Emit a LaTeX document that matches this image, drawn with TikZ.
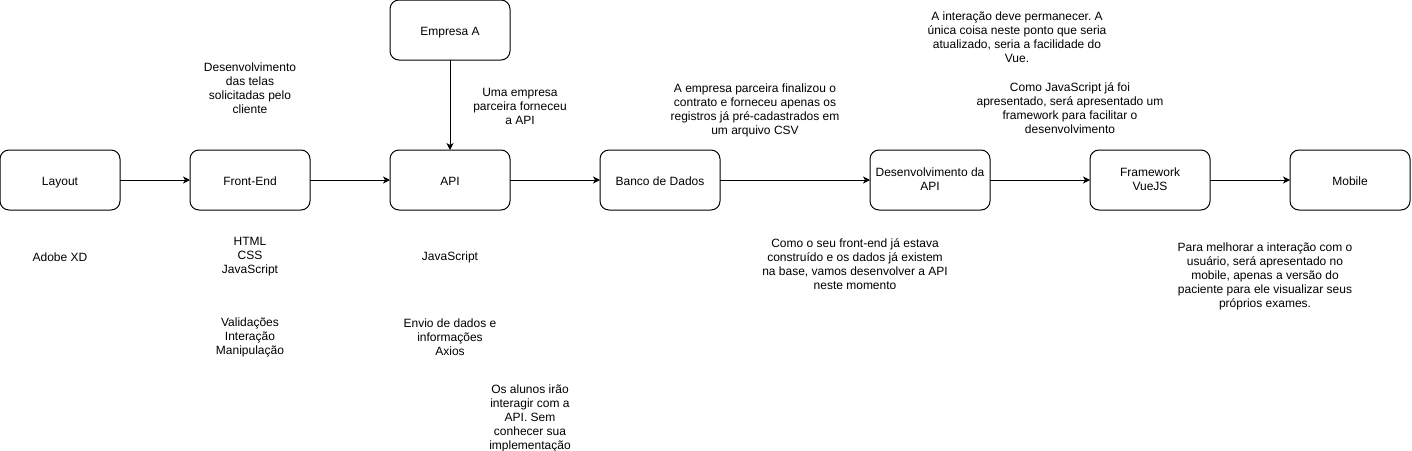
\documentclass[tikz,border=0pt]{standalone}
\usepackage{fontspec}
\setmainfont{Liberation Sans}
\frenchspacing
\usetikzlibrary{positioning,arrows.meta}

\tikzset{
  etapa/.style={draw, rounded corners=9pt, minimum width=120pt, minimum height=60pt,
    align=center, inner sep=2pt, outer sep=0pt, font=\fontsize{12pt}{14pt}\selectfont,
    execute at begin node={\rule{0pt}{14.5pt}}, execute at end node={\rule[-2.6pt]{0pt}{2.6pt}}},
  nota/.style={align=center, inner sep=0pt, font=\fontsize{12pt}{14pt}\selectfont},
  seta/.style={-{Stealth[length=7pt,width=7pt,inset=2pt]}}
}

\begin{document}
\begin{tikzpicture}[x=1pt,y=-1pt,line width=1pt]
        \useasboundingbox (0,0) rectangle (1412,450);
        \node[etapa] (layout) at (60,180) {Layout};
        \node[etapa, right=70pt of layout] (front) {Front-End};
        \node[etapa, right=80pt of front] (api) {API};
        \node[etapa, above=90pt of api] (empresa) {Empresa A};
        \node[etapa, right=90pt of api] (banco) {Banco de Dados};
        \node[etapa, right=150pt of banco] (desenv) {Desenvolvimento da\\API};
        \node[etapa, right=100pt of desenv] (vue) {Framework\\VueJS};
        \node[etapa, right=80pt of vue] (mobile) {Mobile};
        \draw[seta] (layout) -- (front);
        \draw[seta] (front) -- (api);
        \draw[seta] (empresa) -- (api);
        \draw[seta] (api) -- (banco);
        \draw[seta] (banco) -- (desenv);
        \draw[seta] (desenv) -- (vue);
        \draw[seta] (vue) -- (mobile);
        % notas acima
        \node[nota] (telas) at (250,88) {Desenvolvimento\\das telas\\solicitadas pelo\\cliente};
        \node[nota] (parceira) at (520,106) {Uma empresa\\parceira forneceu\\a API};
        \node[nota] (csv) at (755,110) {A empresa parceira finalizou o\\contrato e forneceu apenas os\\registros já pré-cadastrados em\\um arquivo CSV};
        \node[nota] (interacao) at (1017,37) {A interação deve permanecer. A\\única coisa neste ponto que seria\\atualizado, seria a facilidade do\\Vue.};
        \node[nota] (framework) at (1070,108) {Como JavaScript já foi\\apresentado, será apresentado um\\framework para facilitar o\\desenvolvimento};
        % notas abaixo
        \node[nota] (xd) at (60,257) {Adobe XD};
        \node[nota] (html) at (250,257) {HTML\\CSS\\JavaScript};
        \node[nota] (valida) at (250,337) {Validações\\Interação\\Manipulação};
        \node[nota] (js) at (450,257) {JavaScript};
        \node[nota] (envio) at (450,337) {Envio de dados e\\informações\\Axios};
        \node[nota] (alunos) at (530,418) {Os alunos irão\\interagir com a\\API. Sem\\conhecer sua\\implementação};
        \node[nota] (base) at (855,264) {Como o seu front-end já estava\\construído e os dados já existem\\na base, vamos desenvolver a API\\neste momento};
        \node[nota] (paciente) at (1265,276) {Para melhorar a interação com o\\usuário, será apresentado no\\mobile, apenas a versão do\\paciente para ele visualizar seus\\próprios exames.};
    \end{tikzpicture}
\end{document}
